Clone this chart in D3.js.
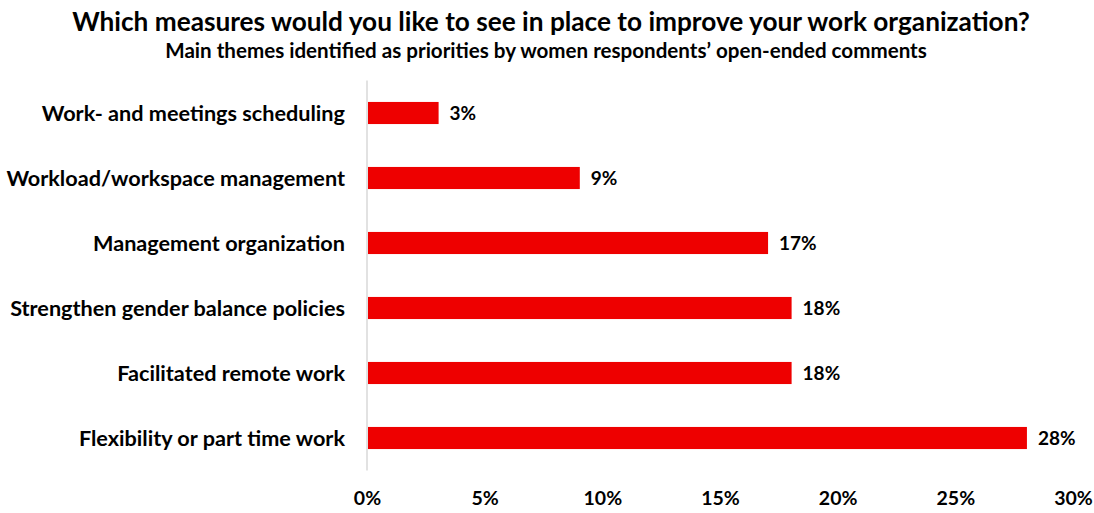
<!DOCTYPE html>
<html>
<head>
<meta charset="utf-8">
<script src="https://cdn.jsdelivr.net/npm/d3@7"></script>
<style>
  html, body { margin: 0; padding: 0; background: #fff; }
  svg text { font-family: Lato, "Open Sans", sans-serif; font-weight: bold; fill: #000; }
</style>
</head>
<body>
<svg id="chart" width="1094" height="513"></svg>
<script>
// Survey themes (top to bottom) and share of comments
const categories = [
  "Work- and meetings scheduling",
  "Workload/workspace management",
  "Management organization",
  "Strengthen gender balance policies",
  "Facilitated remote work",
  "Flexibility or part time work"
];
const shares = [3, 9, 17, 18, 18, 28];
const tickValues = [0, 5, 10, 15, 20, 25, 30];
const titleText = "Which measures would you like to see in place to improve your work organization?";
const subtitleText = "Main themes identified as priorities by women respondents\u2019 open-ended comments";

const svg = d3.select("#chart");
const margin = { left: 367, right: 21, top: 80.5, bottom: 42.5 };
const W = 1094, H = 513;

const x = d3.scaleLinear().domain([0, 30]).range([margin.left, W - margin.right]);
const y = d3.scaleBand().domain(categories).range([margin.top, H - margin.bottom]).paddingInner(0.66).paddingOuter(0.33);

// Shrink or grow a text node's font so its width matches a target
function fitWidth(sel, target, base) {
  sel.style("font-size", base + "px");
  const w = sel.node().getComputedTextLength();
  sel.style("font-size", (base * target / w).toFixed(2) + "px");
}

// Titles
const t1 = svg.append("text").attr("x", 551).attr("y", 31).attr("text-anchor", "middle").text(titleText);
fitWidth(t1, 958, 21);
const t2 = svg.append("text").attr("x", 546).attr("y", 58).attr("text-anchor", "middle").text(subtitleText);
fitWidth(t2, 762, 16);

// Vertical baseline
svg.append("line")
  .attr("x1", x(0)).attr("x2", x(0))
  .attr("y1", margin.top).attr("y2", H - margin.bottom)
  .attr("stroke", "#d9d9d9").attr("stroke-width", 1.5);

// Bars
svg.append("g").selectAll("rect")
  .data(shares)
  .join("rect")
  .attr("x", x(0) + 1)
  .attr("y", (d, i) => y(categories[i]))
  .attr("width", d => x(d) - x(0))
  .attr("height", y.bandwidth())
  .attr("fill", "#ee0000");

// Value labels
svg.append("g").selectAll("text")
  .data(shares)
  .join("text")
  .attr("x", d => x(d) + 12)
  .attr("y", (d, i) => y(categories[i]) + y.bandwidth() / 2)
  .attr("dy", "0.36em")
  .style("font-size", "19px")
  .text(d => d + "%");

// Category labels
const catG = svg.append("g");
const catLabels = catG.selectAll("text")
  .data(categories)
  .join("text")
  .attr("x", 345)
  .attr("y", d => y(d) + y.bandwidth() / 2)
  .attr("dy", "0.35em")
  .attr("text-anchor", "end")
  .text(d => d);
// size labels so the longest spans the available room
const longest = catLabels.filter(d => d === "Strengthen gender balance policies");
fitWidth(longest, 335, 18);
catLabels.style("font-size", longest.style("font-size"));

// X axis tick labels
const axis = d3.axisBottom(x).tickValues(tickValues).tickFormat(d => d + "%").tickSize(0).tickPadding(0);
const ax = svg.append("g").attr("transform", `translate(0, ${H - 15})`).call(axis);
ax.select(".domain").remove();
ax.selectAll("text")
  .attr("dy", "0.36em").attr("y", 0)
  .style("font-size", "19.5px")
  .style("font-family", "Lato, 'Open Sans', sans-serif")
  .style("font-weight", "bold")
  .attr("fill", "#000");
</script>
</body>
</html>
